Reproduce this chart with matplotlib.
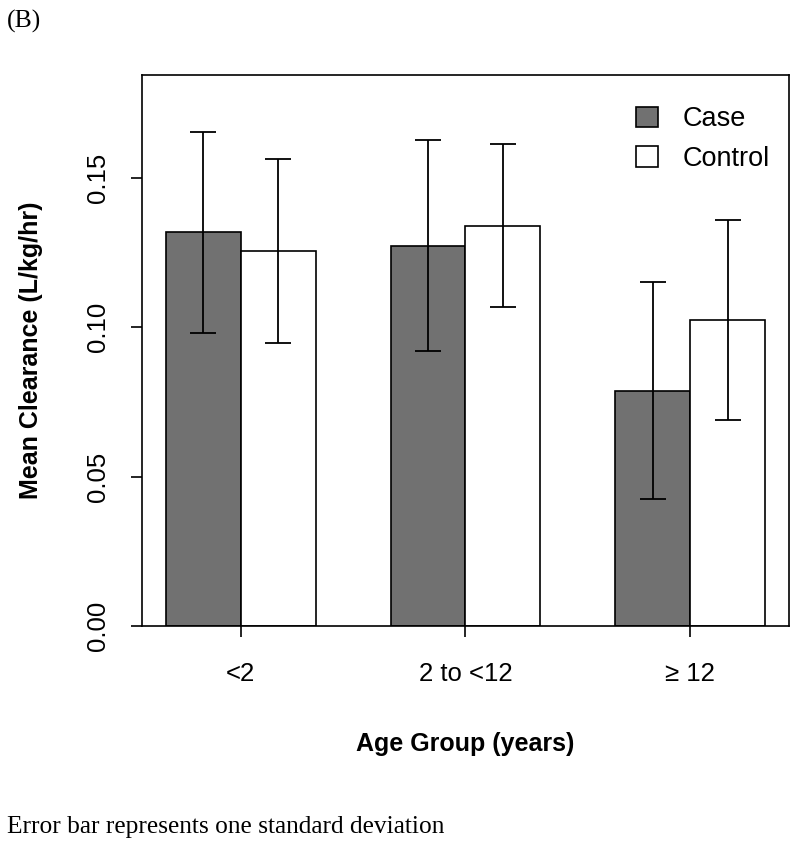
import matplotlib
matplotlib.use("Agg")
import matplotlib.pyplot as plt
from matplotlib.patches import Patch
import numpy as np

groups = ["<2", "2 to <12", "\u2265 12"]
series = ["Case", "Control"]
case_mean = [0.1318, 0.1273, 0.0788]
case_sd = [0.0336, 0.0353, 0.0364]
control_mean = [0.1255, 0.1341, 0.1025]
control_sd = [0.0309, 0.0274, 0.0334]
y_ticks = [0.00, 0.05, 0.10, 0.15]

W, H = 800, 861
fig = plt.figure(figsize=(W / 100, H / 100), dpi=100)
plt.rcParams['font.family'] = ['Liberation Sans', 'DejaVu Sans']

ax_l, ax_r, ax_t, ax_b = 142, 789, 75, 626
ax = fig.add_axes([ax_l / W, 1 - ax_b / H, (ax_r - ax_l) / W, (ax_b - ax_t) / H])

# R barplot-like positions: width 1, group spacing 1
x_case = np.array([1.5, 4.5, 7.5])
x_ctrl = x_case + 1
ekw = dict(ecolor='black', elinewidth=1.3, capsize=9.5, capthick=1.3)
ax.bar(x_case, case_mean, width=1, color='#717171', edgecolor='black', linewidth=1.2,
       yerr=case_sd, error_kw=ekw, label=series[0], zorder=2)
ax.bar(x_ctrl, control_mean, width=1, color='white', edgecolor='black', linewidth=1.2,
       yerr=control_sd, error_kw=ekw, label=series[1], zorder=2)

ax.set_xlim(0.68, 9.32)
ax.set_ylim(0, 0.1845)
ax.set_yticks(y_ticks)
ax.set_yticklabels([f"{v:.2f}" for v in y_ticks], rotation=90, va='center', fontsize=18.5)
ax.set_xticks((x_case + x_ctrl) / 2)
ax.set_xticklabels(groups, fontsize=18.5)
ax.tick_params(axis='both', direction='out', length=8, width=1.2)
ax.tick_params(axis='x', pad=18)
ax.tick_params(axis='y', pad=15)
for s in ax.spines.values():
    s.set_linewidth(1.2)

ax.set_xlabel("Age Group (years)", fontsize=18, fontweight='bold', va='center')
ax.xaxis.set_label_coords(0.5, (ax_b - 744) / (ax_b - ax_t))
ax.set_ylabel("Mean Clearance (L/kg/hr)", fontsize=18, fontweight='bold', va='center')
ax.yaxis.set_label_coords((31 - ax_l) / (ax_r - ax_l), 0.5)

handles = [Patch(facecolor='#717171', edgecolor='black', linewidth=1.2),
           Patch(facecolor='white', edgecolor='black', linewidth=1.2)]
ax.legend(handles, series, loc='upper left', bbox_to_anchor=(0.764, 0.943),
          frameon=False, fontsize=19.5, handlelength=0.8, handleheight=0.8,
          handletextpad=0.9, labelspacing=0.5, borderpad=0, borderaxespad=0)

fig.text(7 / W, 1 - 21 / H, "(B)", family=['Liberation Serif'], fontsize=18.5, va='center', ha='left')
fig.text(7 / W, 1 - 827 / H, "Error bar represents one standard deviation",
         family=['Liberation Serif'], fontsize=18.3, va='center', ha='left')

fig.savefig("out.png", dpi=100)
